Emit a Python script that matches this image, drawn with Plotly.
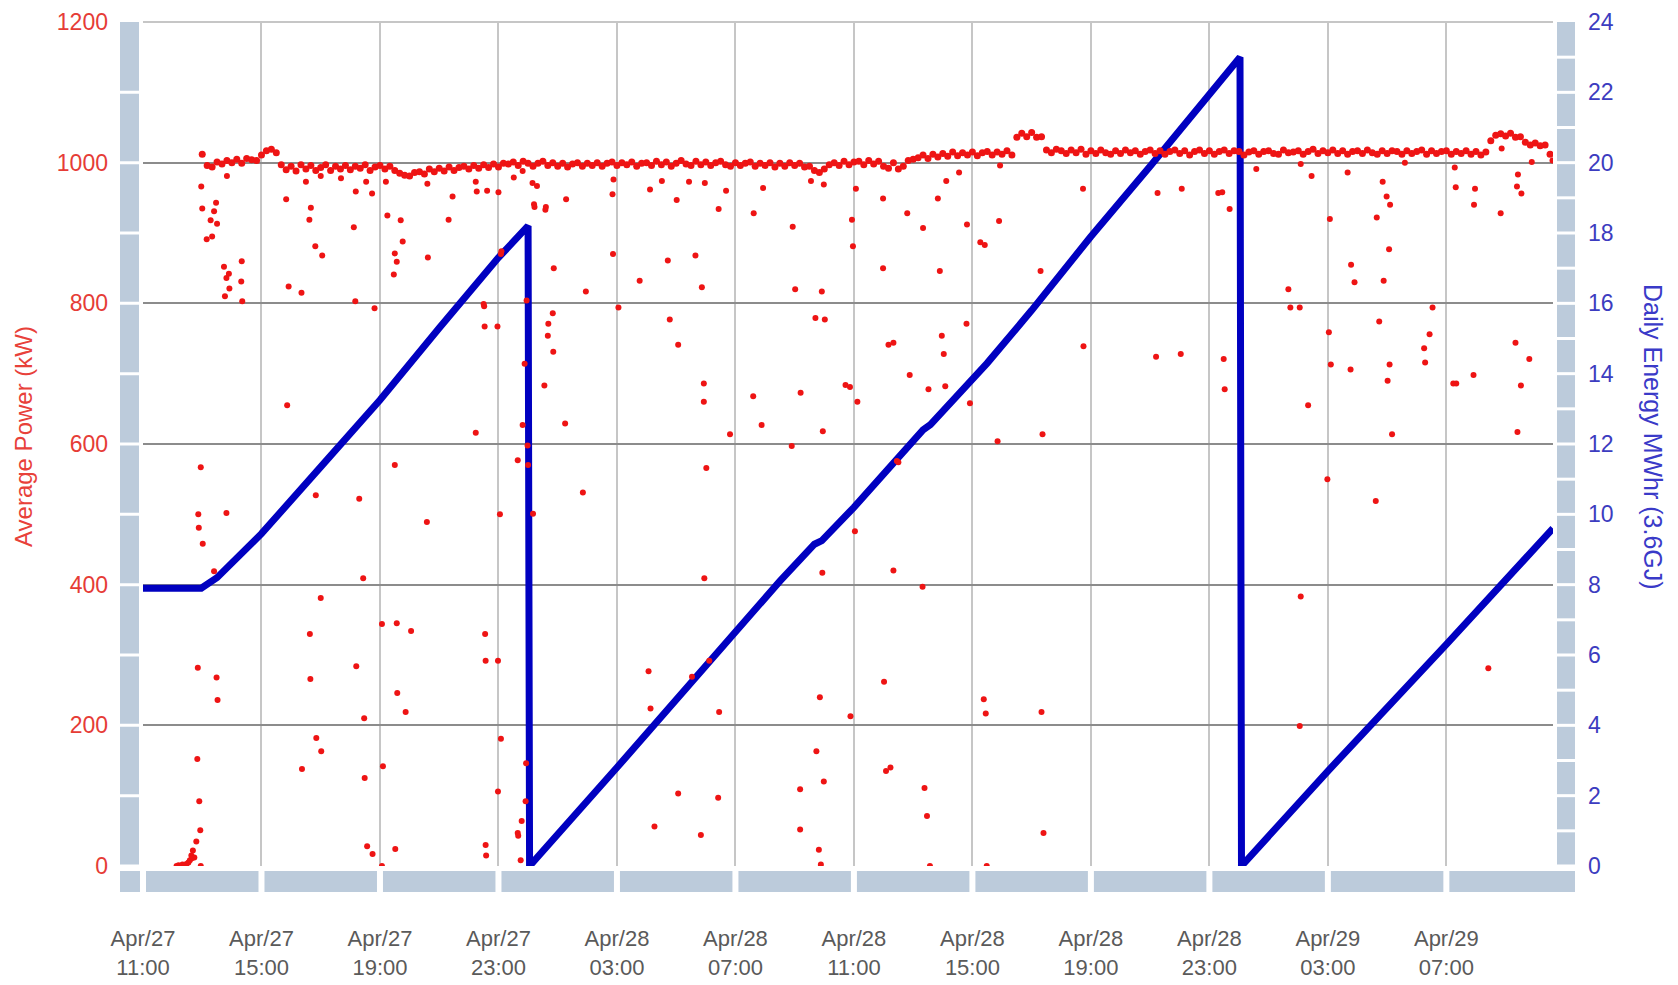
import plotly.graph_objects as go
import pandas as pd

# ---------------- data ----------------
tick_times = ["2012-04-27 11:00", "2012-04-27 15:00", "2012-04-27 19:00", "2012-04-27 23:00",
              "2012-04-28 03:00", "2012-04-28 07:00", "2012-04-28 11:00", "2012-04-28 15:00",
              "2012-04-28 19:00", "2012-04-28 23:00", "2012-04-29 03:00", "2012-04-29 07:00"]
tick_labels = ["Apr/27<br>11:00", "Apr/27<br>15:00", "Apr/27<br>19:00", "Apr/27<br>23:00",
               "Apr/28<br>03:00", "Apr/28<br>07:00", "Apr/28<br>11:00", "Apr/28<br>15:00",
               "Apr/28<br>19:00", "Apr/28<br>23:00", "Apr/29<br>03:00", "Apr/29<br>07:00"]
x_range = ["2012-04-27 11:00", "2012-04-29 10:36"]
power_ticks = [0, 200, 400, 600, 800, 1000, 1200]
energy_ticks = [0, 2, 4, 6, 8, 10, 12, 14, 16, 18, 20, 22, 24]

# Daily energy (MWhr), read at key points of the blue line
energy_times = ["2012-04-27 11:00", "2012-04-27 12:58", "2012-04-27 13:30", "2012-04-27 15:00",
                "2012-04-27 17:00", "2012-04-27 19:00", "2012-04-27 21:00", "2012-04-27 23:00",
                "2012-04-28 00:00", "2012-04-28 00:03", "2012-04-28 03:00", "2012-04-28 06:00",
                "2012-04-28 08:30", "2012-04-28 09:40", "2012-04-28 09:55", "2012-04-28 11:00",
                "2012-04-28 13:20", "2012-04-28 13:35", "2012-04-28 15:20", "2012-04-28 15:30",
                "2012-04-28 17:00", "2012-04-28 19:00", "2012-04-28 21:00", "2012-04-28 23:00",
                "2012-04-29 00:02", "2012-04-29 00:05", "2012-04-29 03:00", "2012-04-29 07:00",
                "2012-04-29 10:36"]
energy_mwh = [7.9, 7.9, 8.2, 9.45, 11.35, 13.25, 15.3, 17.3,
              18.2, 0.0, 2.8, 5.7, 8.1, 9.15, 9.25, 10.2,
              12.4, 12.55, 14.2, 14.3, 15.8, 17.9, 19.9, 21.9,
              23.0, 0.0, 2.7, 6.3, 9.6]

# Average power baseline (kW), one reading every 10 minutes from Apr 27 13:00
baseline_start = "2012-04-27 13:00"
baseline_kw = [
    1012, 996, 994, 1001, 998, 1003,      # 27 13h
    1000, 1005, 999, 1006, 1004, 1003,    # 14h
    1011, 1017, 1019, 1014, 997, 990,     # 15h
    995, 988, 997, 991, 996, 989,         # 16h
    993, 997, 989, 995, 991, 996,         # 17h
    990, 995, 992, 997, 989, 994,         # 18h
    996, 991, 995, 989, 985, 982,         # 19h
    981, 986, 987, 984, 991, 987,         # 20h
    992, 988, 994, 989, 993, 995,         # 21h
    991, 996, 992, 997, 993, 998,         # 22h
    994, 999, 998, 1001, 996, 1002,       # 23h
    999, 995, 999, 1002, 996, 1000,       # 28 00h
    995, 999, 994, 998, 1000, 995,        # 01h
    999, 996, 1000, 995, 999, 1001,       # 02h
    996, 1000, 997, 1001, 995, 999,       # 03h
    1000, 996, 1002, 997, 1001, 995,      # 04h
    999, 1003, 998, 996, 1002, 997,       # 05h
    1001, 996, 1000, 1002, 997, 995,      # 06h
    1000, 996, 999, 1001, 995, 999,       # 07h
    996, 1000, 994, 999, 995, 1000,       # 08h
    996, 999, 994, 995, 989, 986,         # 09h
    991, 997, 1000, 996, 1002, 997,       # 10h
    1001, 1002, 997, 1003, 998, 1002,     # 11h
    995, 992, 1000, 991, 995, 1003,       # 12h
    1005, 1007, 1011, 1006, 1012, 1008,   # 13h
    1013, 1009, 1015, 1010, 1014, 1011,   # 14h
    1015, 1010, 1014, 1016, 1011, 1015,   # 15h
    1012, 1017, 1011, 1036, 1042, 1037,   # 16h
    1043, 1036, 1037, 1018, 1014, 1019,   # 17h
    1017, 1013, 1018, 1014, 1019, 1012,   # 18h
    1017, 1013, 1018, 1014, 1012, 1017,   # 19h
    1013, 1018, 1014, 1017, 1012, 1016,   # 20h
    1018, 1013, 1017, 1012, 1016, 1018,   # 21h
    1013, 1017, 1011, 1016, 1018, 1013,   # 22h
    1017, 1012, 1016, 1018, 1013, 1017,   # 23h
    1016, 1011, 1015, 1017, 1012, 1016,   # 29 00h
    1017, 1013, 1012, 1018, 1014, 1015,   # 01h
    1017, 1012, 1016, 1019, 1013, 1017,   # 02h
    1014, 1018, 1013, 1017, 1012, 1016,   # 03h
    1017, 1013, 1018, 1014, 1012, 1017,   # 04h
    1013, 1017, 1016, 1012, 1017, 1013,   # 05h
    1016, 1018, 1012, 1017, 1013, 1016,   # 06h
    1017, 1012, 1016, 1013, 1017, 1012,   # 07h
    1016, 1011, 1015, 1031, 1039, 1041,   # 08h
    1038, 1042, 1036, 1037, 1029, 1025,   # 09h
    1028, 1024, 1025, 1012,               # 10h
]

# Start-up readings before the baseline begins
startup_times = ["2012-04-27 12:08", "2012-04-27 12:12", "2012-04-27 12:16", "2012-04-27 12:20",
                 "2012-04-27 12:24", "2012-04-27 12:28", "2012-04-27 12:32", "2012-04-27 12:35",
                 "2012-04-27 12:38", "2012-04-27 12:41", "2012-04-27 12:44"]
startup_kw = [0, 1, 0, 2, 0, 3, 5, 8, 15, 22, 12]

# Scattered low readings (day-of-April time, kW)
outliers = [
    ("27 12:39", 11), ("27 12:48", 35), ("27 12:50", 152), ("27 12:51", 282), ("27 12:52", 500),
    ("27 12:53", 481), ("27 12:54", 92), ("27 12:56", 51), ("27 12:57", 0), ("27 12:57", 567),
    ("27 12:58", 966), ("27 13:00", 935), ("27 13:01", 458), ("27 13:09", 891), ("27 13:17", 918),
    ("27 13:20", 895), ("27 13:24", 931), ("27 13:24", 419), ("27 13:28", 943), ("27 13:29", 268),
    ("27 13:30", 913), ("27 13:31", 236), ("27 13:44", 852), ("27 13:46", 810), ("27 13:49", 836),
    ("27 13:49", 502), ("27 13:50", 981), ("27 13:54", 842), ("27 13:55", 821), ("27 14:19", 831),
    ("27 14:20", 860), ("27 14:21", 803),
    ("27 15:50", 948), ("27 15:52", 655), ("27 15:55", 824), ("27 16:21", 815), ("27 16:22", 138),
    ("27 16:30", 973), ("27 16:37", 919), ("27 16:38", 330), ("27 16:39", 266), ("27 16:40", 936),
    ("27 16:49", 881), ("27 16:50", 527), ("27 16:51", 182), ("27 17:00", 981), ("27 17:00", 381),
    ("27 17:01", 163), ("27 17:03", 868), ("27 17:41", 978), ("27 18:07", 908), ("27 18:10", 803),
    ("27 18:11", 959), ("27 18:12", 284), ("27 18:18", 522), ("27 18:26", 409), ("27 18:28", 210),
    ("27 18:29", 125), ("27 18:32", 973), ("27 18:34", 28), ("27 18:44", 956), ("27 18:45", 17),
    ("27 18:49", 793), ("27 19:04", 344), ("27 19:04", 0), ("27 19:06", 142), ("27 19:12", 973),
    ("27 19:15", 925), ("27 19:28", 841), ("27 19:30", 871), ("27 19:30", 570), ("27 19:31", 24),
    ("27 19:34", 859), ("27 19:34", 345), ("27 19:35", 246), ("27 19:42", 918), ("27 19:46", 888),
    ("27 19:52", 219), ("27 20:03", 334), ("27 20:35", 489), ("27 20:36", 970), ("27 20:37", 865),
    ("27 21:19", 919), ("27 21:27", 952), ("27 22:14", 973), ("27 22:14", 616), ("27 22:16", 959),
    ("27 22:30", 799), ("27 22:31", 796), ("27 22:32", 767), ("27 22:33", 330), ("27 22:34", 292),
    ("27 22:34", 30), ("27 22:35", 15), ("27 22:37", 960), ("27 22:58", 767), ("27 22:59", 292),
    ("27 22:59", 106), ("27 23:00", 958), ("27 23:03", 500), ("27 23:05", 181), ("27 23:05", 870),
    ("27 23:06", 874), ("27 23:31", 979), ("27 23:39", 577), ("27 23:39", 47), ("27 23:40", 43),
    ("27 23:45", 8), ("27 23:47", 64), ("27 23:49", 988), ("27 23:49", 627), ("27 23:53", 714),
    ("27 23:55", 92), ("27 23:56", 146), ("27 23:57", 804), ("27 23:59", 598),
    ("28 00:00", 570), ("28 00:09", 971), ("28 00:10", 501), ("28 00:12", 941), ("28 00:13", 937),
    ("28 00:18", 967), ("28 00:33", 683), ("28 00:35", 933), ("28 00:36", 937), ("28 00:40", 754),
    ("28 00:41", 771), ("28 00:50", 786), ("28 00:51", 731), ("28 00:52", 850), ("28 01:15", 629),
    ("28 01:17", 948), ("28 01:51", 531), ("28 01:57", 817), ("28 02:51", 955), ("28 02:52", 870),
    ("28 02:53", 976), ("28 03:03", 794), ("28 03:46", 832), ("28 04:04", 277), ("28 04:07", 962),
    ("28 04:08", 224), ("28 04:16", 56), ("28 04:31", 974), ("28 04:43", 861), ("28 04:47", 777),
    ("28 05:01", 947), ("28 05:04", 741), ("28 05:04", 103), ("28 05:26", 973), ("28 05:32", 269),
    ("28 05:39", 868), ("28 05:50", 44), ("28 05:52", 823), ("28 05:56", 686), ("28 05:56", 660),
    ("28 05:57", 409), ("28 05:58", 971), ("28 06:01", 566), ("28 06:07", 292), ("28 06:25", 97),
    ("28 06:26", 934), ("28 06:27", 219), ("28 06:41", 960), ("28 06:49", 614), ("28 07:36", 668),
    ("28 07:37", 928), ("28 07:53", 627), ("28 07:56", 964), ("28 08:54", 597), ("28 08:56", 909),
    ("28 09:01", 820), ("28 09:11", 109), ("28 09:11", 52), ("28 09:12", 673), ("28 09:33", 974),
    ("28 09:42", 779), ("28 09:44", 163), ("28 09:49", 23), ("28 09:51", 240), ("28 09:53", 2),
    ("28 09:55", 817), ("28 09:56", 417), ("28 09:57", 618), ("28 09:59", 120), ("28 09:59", 969),
    ("28 10:01", 777), ("28 10:43", 684), ("28 10:52", 681), ("28 10:53", 213), ("28 10:56", 919),
    ("28 10:58", 881), ("28 11:02", 476), ("28 11:04", 963), ("28 11:07", 660), ("28 11:59", 850),
    ("28 11:59", 949), ("28 12:01", 262), ("28 12:05", 135), ("28 12:10", 741), ("28 12:14", 140),
    ("28 12:20", 744), ("28 12:20", 420), ("28 12:27", 576), ("28 12:30", 574), ("28 12:48", 928),
    ("28 12:53", 698), ("28 13:19", 397), ("28 13:20", 907), ("28 13:23", 111), ("28 13:28", 71),
    ("28 13:31", 678), ("28 13:34", 0), ("28 13:50", 949), ("28 13:54", 846), ("28 13:58", 754),
    ("28 14:02", 728), ("28 14:05", 682), ("28 14:07", 974), ("28 14:33", 986), ("28 14:48", 771),
    ("28 14:49", 912), ("28 14:55", 658), ("28 15:16", 887), ("28 15:23", 237), ("28 15:25", 883),
    ("28 15:27", 217), ("28 15:29", 0), ("28 15:51", 604), ("28 15:54", 917), ("28 15:56", 996),
    ("28 17:18", 846), ("28 17:20", 219), ("28 17:22", 614), ("28 17:24", 47), ("28 18:44", 963),
    ("28 18:45", 739), ("28 21:12", 724), ("28 21:15", 957), ("28 22:02", 728), ("28 22:04", 963),
    ("28 23:18", 957), ("28 23:26", 958), ("28 23:29", 721), ("28 23:31", 678), ("28 23:41", 934),
    ("29 00:35", 991), ("29 01:40", 820), ("29 01:44", 794), ("29 02:03", 794), ("29 02:03", 199),
    ("29 02:05", 383), ("29 02:05", 998), ("29 02:20", 655), ("29 02:27", 981), ("29 02:59", 550),
    ("29 03:02", 759), ("29 03:04", 920), ("29 03:06", 713), ("29 03:40", 986), ("29 03:46", 706),
    ("29 03:47", 855), ("29 03:54", 830), ("29 04:37", 519), ("29 04:39", 922), ("29 04:44", 774),
    ("29 04:51", 973), ("29 04:53", 832), ("29 04:59", 952), ("29 05:01", 690), ("29 05:04", 877),
    ("29 05:05", 713), ("29 05:06", 940), ("29 05:10", 614), ("29 05:36", 1000), ("29 06:15", 736),
    ("29 06:17", 716), ("29 06:26", 756), ("29 06:32", 794), ("29 07:14", 686), ("29 07:17", 993),
    ("29 07:19", 965), ("29 07:20", 686), ("29 07:55", 698), ("29 07:56", 940), ("29 07:58", 963),
    ("29 08:25", 281), ("29 08:50", 928), ("29 08:52", 1020), ("29 09:20", 744), ("29 09:23", 966),
    ("29 09:24", 617), ("29 09:25", 983), ("29 09:31", 683), ("29 09:32", 956), ("29 09:48", 721),
    ("29 09:53", 1001), ("29 10:35", 1003),
]
outlier_times = ["2012-04-" + t for t, _ in outliers]
outlier_kw = [v for _, v in outliers]

baseline_times = pd.date_range(baseline_start, periods=len(baseline_kw), freq="10min")

# ---------------- styling / geometry ----------------
W, H = 1678, 985
L, R, T, B = 143, 125, 22, 119
PW, PH = W - L - R, H - T - B
RED = "#ee1414"
BLUE = "#0000c0"
STRIP = "#bccbdb"


def px(xpix):
    return (xpix - L) / PW


def py(ypix):
    return (H - B - ypix) / PH


t0 = pd.Timestamp(x_range[0])
t1 = pd.Timestamp(x_range[1])


def time_pix(t):
    return L + (pd.Timestamp(t) - t0) / (t1 - t0) * PW


fig = go.Figure()

fig.add_trace(go.Scatter(x=energy_times, y=energy_mwh, mode="lines", yaxis="y",
                         line=dict(color=BLUE, width=7), hoverinfo="skip", name="Daily Energy"))
fig.add_trace(go.Scatter(x=startup_times, y=startup_kw, mode="markers", yaxis="y2",
                         marker=dict(size=6, color=RED), name="start-up"))
fig.add_trace(go.Scatter(x=baseline_times, y=baseline_kw, mode="markers", yaxis="y2",
                         marker=dict(size=7, color=RED), name="Average Power"))
fig.add_trace(go.Scatter(x=outlier_times, y=outlier_kw, mode="markers", yaxis="y2",
                         marker=dict(size=6, color=RED), name="outliers"))

shapes = []


def rect(x0p, x1p, y0p, y1p):
    shapes.append(dict(type="rect", xref="paper", yref="paper",
                       x0=px(x0p), x1=px(x1p), y0=py(y0p), y1=py(y1p),
                       fillcolor=STRIP, line=dict(width=0), layer="below"))


# left ruler: a block per 100 kW
kw_px = PH / 1200.0
for k in range(12):
    ylo = H - B - kw_px * (k * 100)
    yhi = H - B - kw_px * ((k + 1) * 100)
    rect(120, 139, ylo - 1.5, yhi + (0 if k == 11 else 1.5))
rect(120, time_pix(tick_times[0]) - 3, H - B + 5, H - B + 26)

# right ruler: a block per 1 MWhr
mwh_px = PH / 24.0
for k in range(24):
    ylo = H - B - mwh_px * k
    yhi = H - B - mwh_px * (k + 1)
    rect(1557, 1575, ylo - 1.5, yhi + (0 if k == 23 else 1.5))

# bottom ruler: a block per 4-hour tick interval
gx = [time_pix(t) for t in tick_times]
for i in range(len(gx)):
    x_start = gx[i] + 3
    x_end = gx[i + 1] - 3 if i + 1 < len(gx) else 1575
    rect(x_start, x_end, H - B + 5, H - B + 26)

# light frame line on top
shapes.append(dict(type="line", xref="paper", yref="paper", x0=0, x1=1, y0=1, y1=1,
                   line=dict(color="#c6c6c6", width=2), layer="above"))

fig.update_layout(
    width=W, height=H,
    margin=dict(l=L, r=R, t=T, b=B, pad=0, autoexpand=False),
    paper_bgcolor="white", plot_bgcolor="white",
    showlegend=False,
    font=dict(family="Liberation Sans, Arial, sans-serif", size=23),
    xaxis=dict(type="date", range=x_range, tickvals=tick_times, ticktext=tick_labels,
               showgrid=True, gridcolor="#c6c6c6", gridwidth=1.5, ticks="",
               tickfont=dict(color="#5a5a5a", size=22), ticklabelstandoff=57,
               zeroline=False, showline=False, automargin=False),
    yaxis=dict(range=[0, 24], tickvals=energy_ticks, side="right", showgrid=False,
               zeroline=False, showline=False, ticks="", automargin=False,
               tickfont=dict(color="#3c3cc0", size=23), ticklabelstandoff=34),
    yaxis2=dict(range=[0, 1200], tickvals=power_ticks, side="left", overlaying="y",
                showgrid=True, gridcolor="#8c8c8c", gridwidth=1.5, zeroline=False,
                showline=False, ticks="", automargin=False,
                tickfont=dict(color="#e63c36", size=23), ticklabelstandoff=34),
    shapes=shapes,
    annotations=[
        dict(text="Average Power (kW)", xref="paper", yref="paper", x=px(23), y=py(437),
             textangle=-90, showarrow=False, xanchor="center", yanchor="middle",
             font=dict(color="#e8413a", size=24)),
        dict(text="Daily Energy MWhr (3.6GJ)", xref="paper", yref="paper", x=px(1653), y=py(437),
             textangle=90, showarrow=False, xanchor="center", yanchor="middle",
             font=dict(color="#3a3ac8", size=25)),
    ],
)

fig.write_html("out.html", config={"displayModeBar": False},
               post_script="document.body.style.margin='0';")
